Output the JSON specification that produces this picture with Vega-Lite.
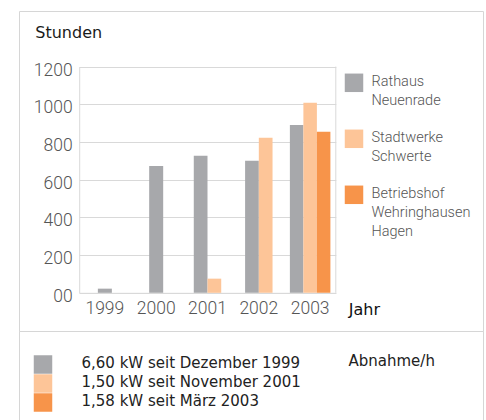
{
  "$schema": "https://vega.github.io/schema/vega-lite/v6.json",
  "padding": {"left": 18, "top": 10, "right": 0, "bottom": 0},
  "spacing": 0,
  "bounds": "flush",
  "background": "white",
  "config": {
    "view": {"stroke": "#d6d6d6", "strokeWidth": 1},
    "font": "Liberation Sans"
  },
  "datasets": {
    "stunden": [
      {"Jahr": "1999", "Anlage": "Rathaus Neuenrade", "Stunden": 22},
      {"Jahr": "2000", "Anlage": "Rathaus Neuenrade", "Stunden": 673},
      {"Jahr": "2001", "Anlage": "Rathaus Neuenrade", "Stunden": 727},
      {"Jahr": "2001", "Anlage": "Stadtwerke Schwerte", "Stunden": 75},
      {"Jahr": "2002", "Anlage": "Rathaus Neuenrade", "Stunden": 700},
      {"Jahr": "2002", "Anlage": "Stadtwerke Schwerte", "Stunden": 822},
      {"Jahr": "2003", "Anlage": "Rathaus Neuenrade", "Stunden": 890},
      {"Jahr": "2003", "Anlage": "Stadtwerke Schwerte", "Stunden": 1008},
      {"Jahr": "2003", "Anlage": "Betriebshof Wehringhausen Hagen", "Stunden": 854}
    ],
    "rahmen": [
      {"Jahr": "2003", "Stunden": 0, "Stunden2": 1200}
    ],
    "leistung": [
      {"Leistung": "6,60 kW seit Dezember 1999"},
      {"Leistung": "1,50 kW seit November 2001"},
      {"Leistung": "1,58 kW seit März 2003"}
    ]
  },
  "resolve": {"scale": {"color": "independent"}, "legend": {"color": "independent"}},
  "vconcat": [
    {
      "width": 464,
      "height": 320,
      "data": {"name": "stunden"},
      "encoding": {
        "x": {
          "field": "Jahr", "type": "nominal", "sort": null,
          "scale": {"domain": ["1999", "2000", "2001", "2002", "2003"], "range": [60.2, 316.8], "paddingInner": 0, "paddingOuter": 0},
          "axis": {
            "title": "Jahr", "offset": -38.2, "domain": true, "domainColor": "#d9d9d9", "domainWidth": 1,
            "ticks": false, "tickSize": 0, "grid": false,
            "labelFont": "Roboto", "labelFontWeight": 300, "labelFontSize": 17.5, "labelColor": "#555555",
            "labelBaseline": "alphabetic", "labelPadding": 21, "labelAngle": 0,
            "titleX": 329.3, "titleY": 21.2, "titleAlign": "left", "titleBaseline": "alphabetic",
            "titleFont": "DejaVu Sans", "titleFontSize": 16, "titleFontWeight": "normal", "titleColor": "#111111"
          }
        },
        "y": {
          "field": "Stunden", "type": "quantitative",
          "scale": {"domain": [0, 1200], "range": [281.8, 55.6], "nice": false, "zero": true},
          "axis": {
            "title": "Stunden", "offset": -60.2, "values": [0, 200, 400, 600, 800, 1000, 1200], "format": "02d",
            "domain": true, "domainColor": "#d9d9d9", "domainWidth": 1,
            "ticks": false, "tickSize": 0, "grid": true, "gridColor": "#d9d9d9", "gridWidth": 1,
            "labelFont": "Roboto", "labelFontWeight": 300, "labelFontSize": 17.5, "labelColor": "#555555",
            "labelPadding": 7, "labelBaseline": "middle", "labelOffset": 3.5, "labelFlush": false, "labelOverlap": false,
            "titleAngle": 0, "titleX": -44.4, "titleY": 26.7, "titleAlign": "left", "titleBaseline": "alphabetic",
            "titleFont": "DejaVu Sans", "titleFontSize": 16, "titleFontWeight": "normal", "titleColor": "#1a1a1a"
          }
        }
      },
      "layer": [
        {
          "data": {"name": "rahmen"},
          "mark": {"type": "rule", "color": "#d9d9d9", "strokeWidth": 1},
          "encoding": {
            "x": {
              "field": "Jahr", "type": "nominal", "sort": null, "bandPosition": 1,
              "scale": {"domain": ["1999", "2000", "2001", "2002", "2003"], "range": [60.2, 316.8], "paddingInner": 0, "paddingOuter": 0},
              "axis": {
                "title": "Jahr", "offset": -38.2, "domain": true, "domainColor": "#d9d9d9", "domainWidth": 1,
                "ticks": false, "tickSize": 0, "grid": false,
                "labelFont": "Roboto", "labelFontWeight": 300, "labelFontSize": 17.5, "labelColor": "#555555",
                "labelBaseline": "alphabetic", "labelPadding": 21, "labelAngle": 0,
                "titleX": 329.3, "titleY": 21.2, "titleAlign": "left", "titleBaseline": "alphabetic",
                "titleFont": "DejaVu Sans", "titleFontSize": 16, "titleFontWeight": "normal", "titleColor": "#111111"
              }
            },
            "y2": {"field": "Stunden2"}
          }
        },
        {
          "transform": [{"filter": {"field": "Jahr", "oneOf": ["1999", "2000"]}}],
          "mark": {"type": "bar", "width": 14},
          "encoding": {"color": {"field": "Anlage", "type": "nominal"}}
        },
        {
          "transform": [{"filter": {"field": "Jahr", "oneOf": ["2001", "2002"]}}],
          "mark": {"type": "bar"},
          "encoding": {
            "color": {"field": "Anlage", "type": "nominal"},
            "xOffset": {
              "field": "Anlage", "type": "nominal",
              "scale": {"domain": ["Rathaus Neuenrade", "Stadtwerke Schwerte"], "paddingInner": 0, "paddingOuter": 0.87}
            }
          }
        },
        {
          "transform": [{"filter": {"field": "Jahr", "equal": "2003"}}],
          "mark": {"type": "bar"},
          "encoding": {
            "color": {
              "field": "Anlage", "type": "nominal",
              "scale": {
                "domain": ["Rathaus Neuenrade", "Stadtwerke Schwerte", "Betriebshof Wehringhausen Hagen"],
                "range": ["#a7a8ab", "#fdc598", "#f7944a"]
              },
              "legend": {
                "orient": "none", "legendX": 325.5, "legendY": 62.3, "title": null, "padding": 0,
                "symbolType": "square", "symbolSize": 342, "symbolStrokeWidth": 0, "symbolOpacity": 1,
                "labelExpr": "split(datum.label, ' ')",
                "labelFont": "Roboto", "labelFontWeight": 300, "labelFontSize": 14.5, "labelColor": "#555555",
                "labelOffset": 8, "labelBaseline": "alphabetic", "labelLimit": 300,
                "rowPadding": 21,
                "encode": {"labels": {"update": {"dy": {"value": 3.5}, "lineHeight": {"value": 18.7}}}}
              }
            },
            "xOffset": {
              "field": "Anlage", "type": "nominal",
              "scale": {"domain": ["Rathaus Neuenrade", "Stadtwerke Schwerte", "Betriebshof Wehringhausen Hagen"], "paddingInner": 0, "paddingOuter": 0.4}
            }
          }
        }
      ],
      "resolve": {"scale": {"xOffset": "independent"}}
    },
    {
      "width": 464,
      "height": 100,
      "data": {"name": "leistung"},
      "mark": {"type": "square", "size": 0},
      "encoding": {
        "y": {"field": "Leistung", "type": "nominal", "axis": null},
        "color": {
          "field": "Leistung", "type": "nominal",
          "scale": {
            "domain": ["6,60 kW seit Dezember 1999", "1,50 kW seit November 2001", "1,58 kW seit März 2003"],
            "range": ["#a7a8ab", "#fdc598", "#f7944a"]
          },
          "legend": {
            "orient": "none", "legendX": 14.5, "legendY": 24, "padding": 0,
            "title": "Abnahme/h", "titleOrient": "right", "titleAnchor": "start", "titlePadding": 48,
            "titleFont": "DejaVu Sans", "titleFontSize": 15, "titleFontWeight": "normal", "titleColor": "#222222",
            "titleBaseline": "alphabetic", "titleAngle": 0,
            "symbolType": "square", "symbolSize": 342, "symbolStrokeWidth": 0, "symbolOpacity": 1,
            "rowPadding": 0,
            "labelFont": "DejaVu Sans", "labelFontSize": 15, "labelColor": "#222222",
            "labelOffset": 29, "labelLimit": 400, "labelBaseline": "alphabetic",
            "encode": {
              "labels": {"update": {"dy": {"value": 3}}},
              "title": {"update": {"dy": {"value": 11}}}
            }
          }
        }
      }
    }
  ]
}
